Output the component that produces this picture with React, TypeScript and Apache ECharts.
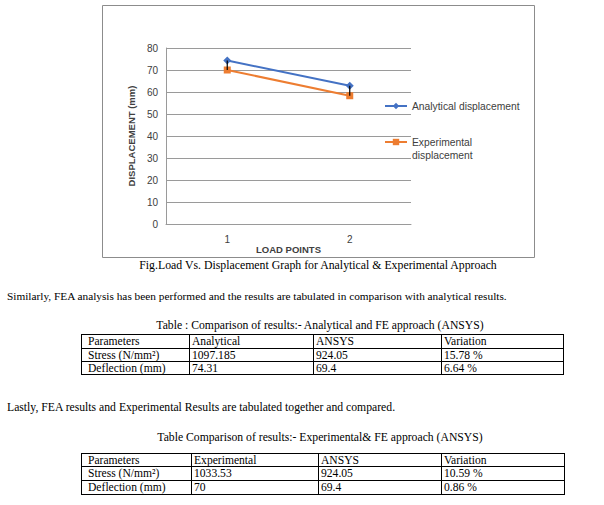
import React, { useEffect, useRef } from "react";
import * as echarts from "echarts";

const categories = ["1", "2"];
const analytical = [74.31, 62.8];
const experimental = [70, 58.3];
const yTicks = { min: 0, max: 80, interval: 10 };

const captionText = "Fig.Load Vs. Displacement Graph for Analytical & Experimental Approach";
const para1 = "Similarly, FEA analysis has been performed and the results are tabulated in comparison with analytical results.";
const para2 = "Lastly, FEA results and Experimental Results are tabulated together and compared.";
const table1Title = "Table : Comparison of results:- Analytical and FE approach (ANSYS)";
const table1Header = ["Parameters", "Analytical", "ANSYS", "Variation"];
const table1Row1 = ["Stress (N/mm²)", "1097.185", "924.05", "15.78 %"];
const table1Row2 = ["Deflection (mm)", "74.31", "69.4", "6.64 %"];
const table2Title = "Table Comparison of results:- Experimental& FE approach (ANSYS)";
const table2Header = ["Parameters", "Experimental", "ANSYS", "Variation"];
const table2Row1 = ["Stress (N/mm²)", "1033.53", "924.05", "10.59 %"];
const table2Row2 = ["Deflection (mm)", "70", "69.4", "0.86 %"];

const SERIF = '"Liberation Serif", "Times New Roman", serif';
const SANS = '"Liberation Sans", Arial, sans-serif';

function buildTable(rows: string[][], cols: number[], rowYs: number[]) {
  const els: any[] = [];
  const left = cols[0];
  const right = cols[cols.length - 1];
  rowYs.forEach((y) => {
    els.push({
      type: "line",
      shape: { x1: left, y1: y + 0.5, x2: right + 1, y2: y + 0.5 },
      style: { stroke: "#000", lineWidth: 1 },
    });
  });
  cols.forEach((x) => {
    els.push({
      type: "line",
      shape: { x1: x + 0.5, y1: rowYs[0], x2: x + 0.5, y2: rowYs[rowYs.length - 1] + 1 },
      style: { stroke: "#000", lineWidth: 1 },
    });
  });
  rows.forEach((row, ri) => {
    const cy = (rowYs[ri] + rowYs[ri + 1]) / 2 + 0.5;
    row.forEach((cell, ci) => {
      els.push({
        type: "text",
        x: cols[ci] + (ci === 0 ? 7 : 3),
        y: cy,
        style: {
          text: cell,
          fontSize: 11.6,
          fontFamily: SERIF,
          fill: "#000",
          align: "left",
          verticalAlign: "middle",
        },
      });
    });
  });
  return els;
}

function docText(text: string, x: number, y: number, align: string, size: number) {
  return {
    type: "text",
    x,
    y,
    style: {
      text,
      fontSize: size,
      fontFamily: SERIF,
      fill: "#000",
      align,
      verticalAlign: "middle",
    },
  };
}

export default function App() {
  const ref = useRef<HTMLDivElement>(null);
  useEffect(() => {
    if (!ref.current) return;
    const chart = echarts.init(ref.current, undefined, { renderer: "svg" });
    const dropData = categories.map((_, i) => [i, experimental[i], analytical[i]]);
    const graphic: any[] = [
      {
        type: "rect",
        z: -10,
        shape: { x: 102.5, y: 5.5, width: 432, height: 252 },
        style: { fill: "#fff", stroke: "#8c8c8c", lineWidth: 1 },
      },
      docText(captionText, 318, 265, "center", 11.8),
      docText(para1, 7, 296, "left", 11.3),
      docText(table1Title, 320, 325, "center", 11.7),
      ...buildTable([table1Header, table1Row1, table1Row2], [81, 189, 313, 441, 563], [334, 348, 361, 374]),
      docText(para2, 7, 407, "left", 11.7),
      docText(table2Title, 320, 437, "center", 11.7),
      ...buildTable([table2Header, table2Row1, table2Row2], [81, 191, 318, 441, 564], [453, 466, 480, 494]),
    ];
    chart.setOption({
      animation: false,
      backgroundColor: "#fff",
      graphic,
      grid: { left: 166, top: 48, right: 604 - 411, bottom: 505 - 224, containLabel: false },
      xAxis: {
        type: "category",
        data: categories,
        boundaryGap: true,
        axisLine: { show: true, lineStyle: { color: "#9a9a9a", width: 1 } },
        axisTick: { show: false },
        axisLabel: { margin: 10, fontSize: 10, fontFamily: SANS, color: "#404040" },
        name: "LOAD POINTS",
        nameLocation: "middle",
        nameGap: 18,
        nameTextStyle: { fontSize: 9.5, fontWeight: "bold", fontFamily: SANS, color: "#404040" },
      },
      yAxis: {
        type: "value",
        min: yTicks.min,
        max: yTicks.max,
        interval: yTicks.interval,
        axisLine: { show: true, lineStyle: { color: "#9a9a9a", width: 1 } },
        axisTick: { show: false },
        splitLine: { show: true, lineStyle: { color: "#9a9a9a", width: 1 } },
        axisLabel: { margin: 8, fontSize: 10, fontFamily: SANS, color: "#404040" },
        name: "DISPLACEMENT (mm)",
        nameLocation: "middle",
        nameGap: 30,
        nameTextStyle: { fontSize: 9.5, fontWeight: "bold", fontFamily: SANS, color: "#404040" },
      },
      legend: [
        {
          data: ["Analytical displacement"],
          left: 384,
          top: 101,
          padding: 0,
          itemWidth: 22,
          itemHeight: 8,
          textStyle: { fontSize: 10.3, fontFamily: SANS, color: "#404040" },
        },
        {
          data: ["Experimental displacement"],
          left: 384,
          top: 122.5,
          padding: 0,
          itemWidth: 22,
          itemHeight: 8,
          formatter: () => " \nExperimental\ndisplacement",
          textStyle: {
            fontSize: 10.3,
            fontFamily: SANS,
            color: "#404040",
            lineHeight: 13,
          },
        },
      ],
      series: [
        {
          type: "custom",
          name: "drop",
          data: dropData,
          z: 3,
          renderItem: (params: any, api: any) => {
            const p1 = api.coord([api.value(0), api.value(1)]);
            const p2 = api.coord([api.value(0), api.value(2)]);
            return {
              type: "line",
              shape: { x1: p1[0], y1: p1[1], x2: p2[0], y2: p2[1] },
              style: { stroke: "#000", lineWidth: 1.2 },
            };
          },
        },
        {
          type: "line",
          name: "Analytical displacement",
          data: analytical,
          color: "#4472C4",
          symbol: "diamond",
          symbolSize: 8,
          lineStyle: { width: 2, color: "#4472C4" },
          itemStyle: { color: "#4472C4" },
          z: 2,
        },
        {
          type: "line",
          name: "Experimental displacement",
          data: experimental,
          color: "#ED7D31",
          symbol: "rect",
          symbolSize: 7,
          lineStyle: { width: 2, color: "#ED7D31" },
          itemStyle: { color: "#ED7D31" },
          z: 2,
        },
      ],
    });
    return () => chart.dispose();
  }, []);
  return (
    <div
      ref={ref}
      style={{ position: "absolute", left: 0, top: 0, width: 604, height: 505, background: "#fff" }}
    />
  );
}
